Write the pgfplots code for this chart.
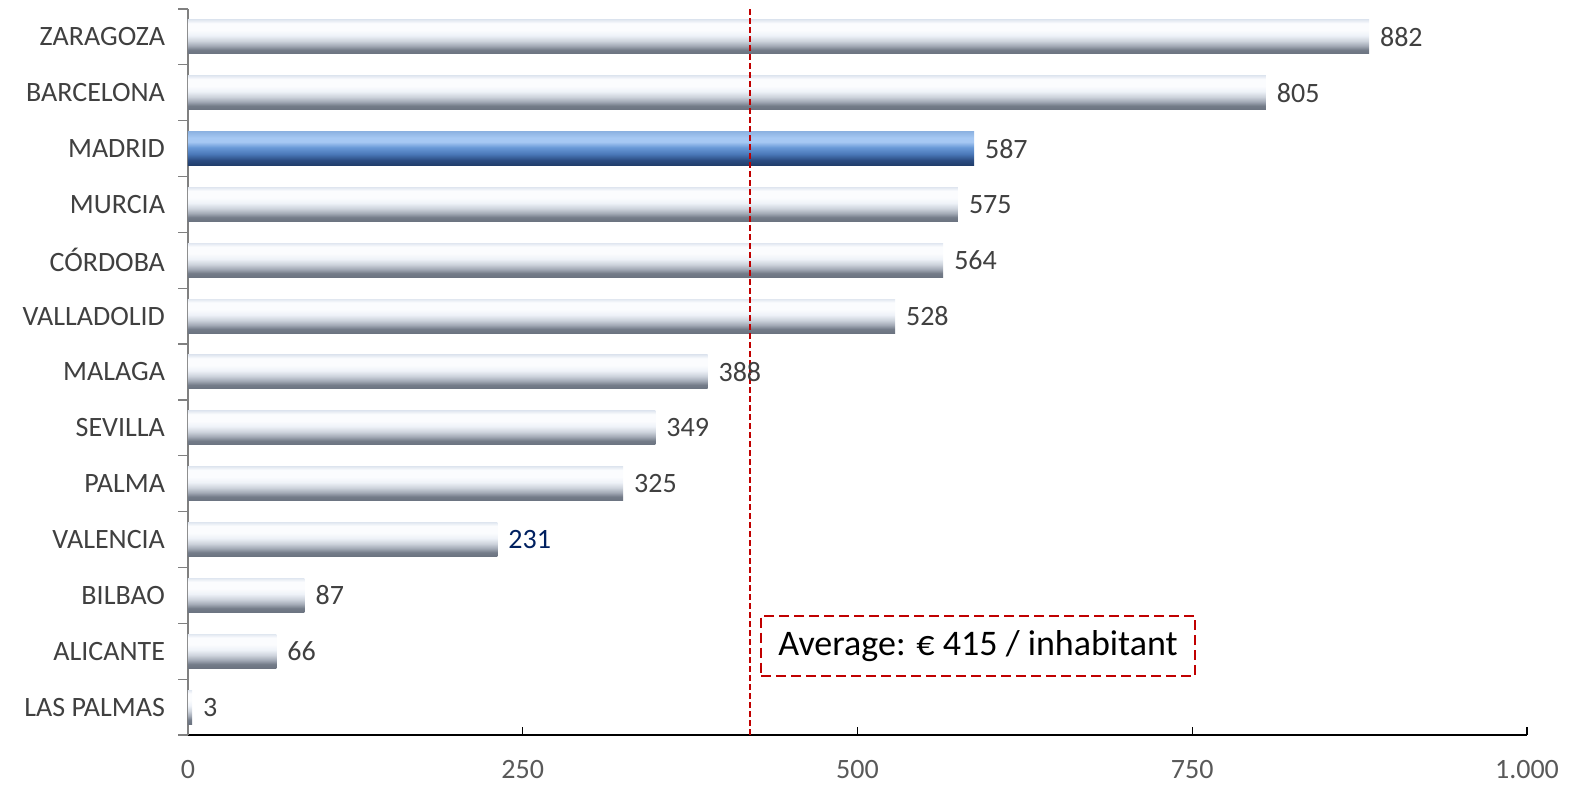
\documentclass[border=0pt]{standalone}
\usepackage{fontspec}
\setmainfont{Carlito}
\usepackage{pgfplots}
\pgfplotsset{compat=1.18}
\definecolor{lbl}{HTML}{404040}
\definecolor{tlbl}{HTML}{595959}
\definecolor{avgred}{HTML}{C00000}
\definecolor{vblue}{HTML}{002060}
\definecolor{ga}{HTML}{6B7380}
\definecolor{gb}{HTML}{747C89}
\definecolor{gc}{HTML}{A3AAB6}
\definecolor{gd}{HTML}{CDD3DC}
\definecolor{ge}{HTML}{EEF2F8}
\definecolor{gf}{HTML}{FBFCFE}
\definecolor{gg}{HTML}{E2E8F1}
\definecolor{ba}{HTML}{203C69}
\definecolor{bb}{HTML}{2B4C82}
\definecolor{bc}{HTML}{4A78B8}
\definecolor{bd}{HTML}{6A9AD8}
\definecolor{be}{HTML}{A6C8F3}
\definecolor{bf}{HTML}{8DB3E2}
\pgfdeclareverticalshading{greybar}{100bp}{color(0bp)=(ga); color(25bp)=(ga); color(31bp)=(gb); color(37bp)=(gc); color(44bp)=(gd); color(52bp)=(ge); color(60bp)=(gf); color(70bp)=(gf); color(75bp)=(gg); color(100bp)=(gg)}
\pgfdeclareverticalshading{bluebar}{100bp}{color(0bp)=(ba); color(25bp)=(ba); color(33bp)=(bb); color(42bp)=(bc); color(52bp)=(bd); color(60bp)=(be); color(66bp)=(be); color(75bp)=(bf); color(100bp)=(bf)}
\pgfplotsset{gbar/.style={draw=none, shade, shading=greybar}}
\begin{document}
\begin{tikzpicture}
\begin{axis}[
  name=ax, at={(0,0)}, anchor=south west,
  scale only axis, width=669.5pt, height=363pt,
  xmin=0, xmax=1000, ymin=-0.5, ymax=12.5,
  axis x line*=bottom, axis y line*=left,
  x axis line style={black, line width=0.6pt},
  y axis line style={draw=gray, line width=0.6pt},
  /pgf/number format/assume math mode=true,
  xtick={0,250,500,750,1000},
  xticklabel style={/pgf/number format/1000 sep={.}, font=\fontsize{14}{16}\selectfont, text=tlbl, yshift=-9pt},
  xtick align=inside, ytick align=outside,
  major tick length=4pt,
  minor tick length=5pt,
  ytick={0,...,12},
  yticklabels={LAS PALMAS,ALICANTE,BILBAO,VALENCIA,PALMA,SEVILLA,MALAGA,VALLADOLID,CÓRDOBA,MURCIA,MADRID,BARCELONA,ZARAGOZA},
  yticklabel style={font=\fontsize{14}{16}\selectfont, text=lbl, xshift=-4pt},
  minor ytick={-0.5,0.5,1.5,2.5,3.5,4.5,5.5,6.5,7.5,8.5,9.5,10.5,11.5,12.5},
  major y tick style={draw=none},
  minor y tick style={draw=gray, line width=0.6pt},
  major x tick style={draw=black, line width=0.6pt},
  xbar, bar width=17pt, bar shift=0pt,
  nodes near coords,
  nodes near coords align={horizontal},
  every node near coord/.append style={font=\fontsize{14}{16}\selectfont, text=lbl, xshift=2pt},
  clip=false,
]
\addplot[gbar] coordinates {(3,0)};
\addplot[gbar] coordinates {(66,1)};
\addplot[gbar] coordinates {(87,2)};
\addplot[gbar, every node near coord/.append style={text=vblue}] coordinates {(231,3)};
\addplot[gbar] coordinates {(325,4)};
\addplot[gbar] coordinates {(349,5)};
\addplot[gbar] coordinates {(388,6)};
\addplot[gbar] coordinates {(528,7)};
\addplot[gbar] coordinates {(564,8)};
\addplot[gbar] coordinates {(575,9)};
\addplot[draw=none, shade, shading=bluebar] coordinates {(587,10)};
\addplot[gbar] coordinates {(805,11)};
\addplot[gbar] coordinates {(882,12)};
\draw[avgred, line width=0.9pt, dash pattern=on 3pt off 1.5pt] (axis cs:420,-0.5) -- (axis cs:420,12.5);
\node[draw=avgred, line width=1pt, dash pattern=on 5pt off 2.5pt, minimum width=217pt, minimum height=30pt, font=\fontsize{18}{22}\selectfont, text=black] at (axis cs:590,1.1) {Average: € 415 / inhabitant};
\end{axis}
\pgfresetboundingbox
\path[use as bounding box] ([xshift=-94pt,yshift=-25pt]ax.south west) rectangle ([xshift=23pt,yshift=4.5pt]ax.north east);
\end{tikzpicture}
\end{document}
